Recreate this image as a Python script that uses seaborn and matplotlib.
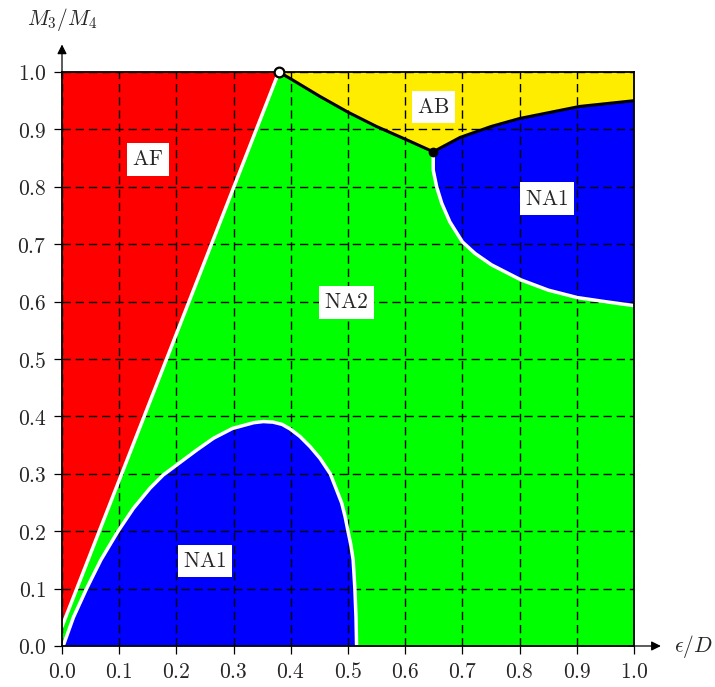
import numpy as np
import matplotlib
matplotlib.use("Agg")
import matplotlib.pyplot as plt
import seaborn as sns

# phase boundaries
af_x = [0.0, 0.379]
af_y = [0.034, 1.0]

ab_left_x = [0.379, 0.4, 0.45, 0.5, 0.55, 0.6, 0.649]
ab_left_y = [1.0, 0.988, 0.958, 0.93, 0.905, 0.883, 0.861]

ab_right_x = [0.649, 0.696, 0.75, 0.8, 0.905, 1.0]
ab_right_y = [0.861, 0.886, 0.905, 0.919, 0.94, 0.95]

na1_top_x = [0.649, 0.649, 0.655, 0.664, 0.678, 0.70, 0.722, 0.751, 0.802,
             0.85, 0.901, 0.949, 1.0]
na1_top_y = [0.861, 0.829, 0.80, 0.771, 0.739, 0.704, 0.684, 0.664, 0.638,
             0.62, 0.607, 0.60, 0.593]

na1_low_x = [0.002, 0.02, 0.043, 0.068, 0.098, 0.125, 0.154, 0.177, 0.2, 0.235,
             0.265, 0.298, 0.335, 0.352, 0.369, 0.385, 0.399, 0.416, 0.434, 0.451,
             0.469, 0.48, 0.489, 0.495, 0.5, 0.505, 0.509, 0.512, 0.514, 0.515]
na1_low_y = [0.0, 0.05, 0.1, 0.15, 0.2, 0.24, 0.275, 0.298, 0.315, 0.341,
             0.362, 0.379, 0.389, 0.391, 0.39, 0.386, 0.378, 0.365, 0.347, 0.327,
             0.3, 0.272, 0.249, 0.225, 0.2, 0.176, 0.15, 0.1, 0.05, 0.0]

labels = ["AF", "NA2", "AB", "NA1", "NA1"]
label_x = [0.15, 0.497, 0.649, 0.848, 0.25]
label_y = [0.848, 0.599, 0.939, 0.779, 0.148]

ticks = [0.0, 0.1, 0.2, 0.3, 0.4, 0.5, 0.6, 0.7, 0.8, 0.9, 1.0]
tick_labels = [r"$%.1f$" % t for t in ticks]

RED, GREEN, BLUE, YELLOW = "#ff0000", "#00ff00", "#0000ff", "#ffed00"

sns.set_theme(style="white")
plt.rcParams["mathtext.fontset"] = "cm"
plt.rcParams["font.family"] = ["DejaVu Serif"]

fig = plt.figure(figsize=(7.15, 6.87), dpi=100)
ax = fig.add_axes([62 / 715, 41 / 687, 572 / 715, 574 / 687])

# region fills
ax.fill_between([0, 1], 0, 1, color=GREEN, lw=0, zorder=1)
ax.fill([0.0] + af_x + [0.0], [0.0] + af_y + [1.0], color=RED, lw=0, zorder=1)
ax.fill([0.0, 0.0] + af_x, [0.0, 0.0] + af_y, color=GREEN, lw=0, zorder=1)
ax.fill(ab_left_x + ab_right_x[1:] + [1.0], ab_left_y + ab_right_y[1:] + [1.0],
        color=YELLOW, lw=0, zorder=1)
ax.fill(ab_right_x + na1_top_x[::-1], ab_right_y + na1_top_y[::-1],
        color=BLUE, lw=0, zorder=1)
ax.fill(na1_low_x, na1_low_y, color=BLUE, lw=0, zorder=1)

# grid over the fills
ax.set_axisbelow(False)
ax.grid(True, color="black", lw=1.0, linestyle=(0, (6, 3.5)))

# boundaries
line_kw = dict(sort=False, estimator=None, ax=ax, solid_joinstyle="round", solid_capstyle="round")
sns.lineplot(x=af_x, y=af_y, color="white", lw=2.5, zorder=3, **line_kw)
sns.lineplot(x=na1_low_x, y=na1_low_y, color="white", lw=2.5, zorder=3, **line_kw)
sns.lineplot(x=na1_top_x, y=na1_top_y, color="white", lw=2.5, zorder=3, **line_kw)
sns.lineplot(x=ab_left_x, y=ab_left_y, color="black", lw=2.2, zorder=4, **line_kw)
sns.lineplot(x=ab_right_x, y=ab_right_y, color="black", lw=2.2, zorder=4, **line_kw)

ax.plot(af_x[1], af_y[1], "o", ms=7, mfc="white", mec="black", mew=1.6, zorder=6, clip_on=False)
ax.plot(ab_left_x[-1], ab_left_y[-1], "o", ms=6, color="black", zorder=6)

for t, x, y in zip(labels, label_x, label_y):
    ax.text(x, y, r"$\mathrm{%s}$" % t, fontsize=15.5, ha="center", va="center", zorder=7,
            bbox=dict(boxstyle="square,pad=0.25", fc="white", ec="none"))

ax.set_xlim(0, 1)
ax.set_ylim(0, 1)
ax.set_xticks(ticks)
ax.set_yticks(ticks)
ax.set_xticklabels(tick_labels, fontsize=15.5)
ax.set_yticklabels(tick_labels, fontsize=15.5)
ax.tick_params(direction="out", length=6, width=0.9, color="black", pad=5,
               bottom=True, left=True)
for s in ax.spines.values():
    s.set_color("black")
    s.set_linewidth(1.3)
    s.set_zorder(5)

# axis arrows
ax.annotate("", xy=(1.047, 0), xytext=(0.99, 0), xycoords="axes fraction",
            arrowprops=dict(arrowstyle="-|>", color="black", lw=0.9, mutation_scale=14,
                            shrinkA=0, shrinkB=0))
ax.annotate("", xy=(0, 1.048), xytext=(0, 0.99), xycoords="axes fraction",
            arrowprops=dict(arrowstyle="-|>", color="black", lw=0.9, mutation_scale=14,
                            shrinkA=0, shrinkB=0))
ax.text(1.104, 0, r"$\epsilon/D$", transform=ax.transAxes, fontsize=15.5, ha="center", va="center")
ax.text(0.0, 1.092, r"$M_3/M_4$", transform=ax.transAxes, fontsize=15.5, ha="center", va="center")

fig.savefig("out.png", dpi=100)
